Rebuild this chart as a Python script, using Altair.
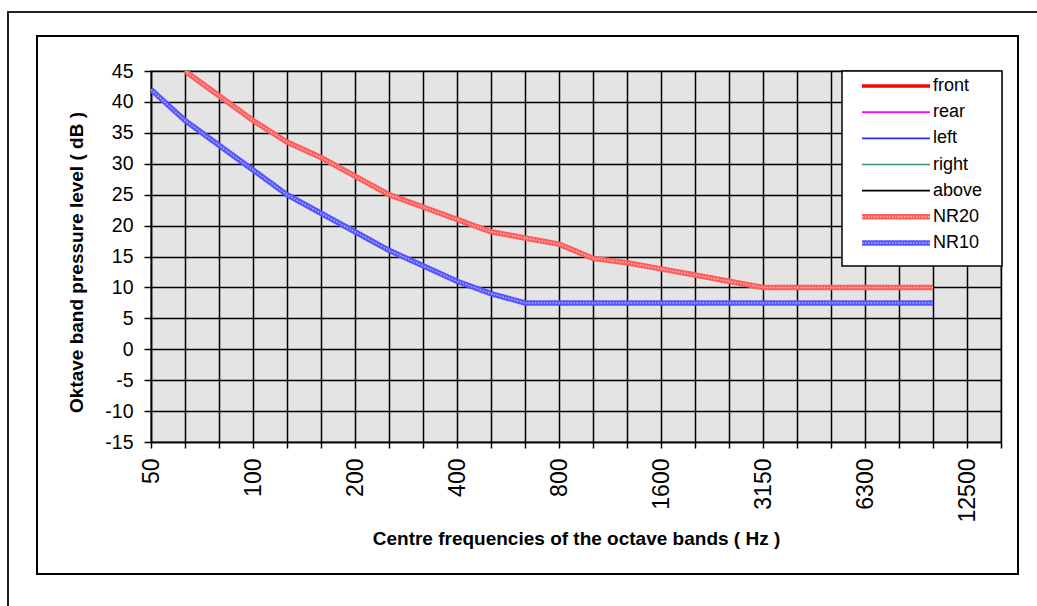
import altair as alt
import pandas as pd

# Third-octave band centre frequencies (Hz)
freqs = ["50", "63", "80", "100", "125", "160", "200", "250", "315", "400",
         "500", "630", "800", "1000", "1250", "1600", "2000", "2500", "3150",
         "4000", "5000", "6300", "8000", "10000", "12500", "16000"]
shown_labels = ["50", "100", "200", "400", "800", "1600", "3150", "6300", "12500"]

# Noise rating curves (dB)
nr20_freqs = freqs[1:24]
nr20_levels = [45, 41, 37, 33.5, 31, 28, 25, 23, 21, 19, 18, 17, 14.7, 14,
               13, 12, 11, 10, 10, 10, 10, 10, 10]
nr10_freqs = freqs[0:24]
nr10_levels = [42, 37, 33, 29, 25, 22, 19, 16, 13.5, 11, 9, 7.5, 7.5, 7.5,
               7.5, 7.5, 7.5, 7.5, 7.5, 7.5, 7.5, 7.5, 7.5, 7.5]

# Legend entries (measurement positions have no data in this sheet)
series_names = ["front", "rear", "left", "right", "above", "NR20", "NR10"]
series_colors = ["#FF0000", "#FF00FF", "#2B2BFF", "#339966", "#000000",
                 "#FF5C5C", "#5555FF"]
y_ticks = list(range(-15, 50, 5))

rows = []
for f, v in zip(nr20_freqs, nr20_levels):
    rows.append({"series": "NR20", "freq": f, "level": v})
for f, v in zip(nr10_freqs, nr10_levels):
    rows.append({"series": "NR10", "freq": f, "level": v})
df = pd.DataFrame(rows)
legend_df = pd.DataFrame({"series": series_names})

FONT = "Liberation Sans"
W, H = 850, 371

label_test = "indexof(" + str(shown_labels) + ", datum.value) >= 0 ? datum.value : ''"

x_enc = alt.X(
    "freq:O",
    sort=freqs,
    scale=alt.Scale(type="point", padding=0, domain=freqs),
    axis=alt.Axis(
        title="Centre frequencies of the octave bands ( Hz )",
        labelExpr=label_test,
        labelAngle=270,
        labelAlign="right",
        labelBaseline="middle",
        labelPadding=10,
        labelFont=FONT,
        labelFontSize=23,
        labelColor="black",
        tickSize=6,
        tickColor="black",
        tickWidth=1.5,
        domainColor="black",
        domainWidth=1.5,
        grid=True,
        gridColor="black",
        gridWidth=1.5,
        gridOpacity=1,
        titleFont=FONT,
        titleFontSize=19,
        titleFontWeight="bold",
        titleColor="black",
        titleBaseline="middle",
        titleY=96,
        labelOverlap=False,
    ),
)
y_enc = alt.Y(
    "level:Q",
    scale=alt.Scale(domain=[-15, 45], nice=False, zero=False),
    axis=alt.Axis(
        title="Oktave band pressure level ( dB )",
        values=y_ticks,
        labelExpr="'' + datum.value",
        labelFont=FONT,
        labelFontSize=19.5,
        labelColor="black",
        labelPadding=11,
        tickSize=7,
        tickColor="black",
        tickWidth=1.5,
        domainColor="black",
        domainWidth=1.5,
        grid=True,
        gridColor="black",
        gridWidth=1.5,
        gridOpacity=1,
        titleFont=FONT,
        titleFontSize=19,
        titleFontWeight="bold",
        titleColor="black",
        titleBaseline="middle",
        titleX=-75,
        titleY=191,
        labelOverlap=False,
    ),
)

color_scale = alt.Scale(domain=series_names, range=series_colors)

lines = alt.Chart(df).mark_line(strokeWidth=5.5, clip=True).encode(
    x=x_enc,
    y=y_enc,
    color=alt.Color("series:N", scale=color_scale, legend=None),
    detail="series:N",
)

# light dotted texture running along the noise-rating curves
texture = alt.Chart(df).mark_line(
    strokeWidth=1.5, color="white", strokeDash=[1.5, 1.5], opacity=0.55, clip=True
).encode(x=x_enc, y=y_enc, detail="series:N")

frame_data = pd.DataFrame({"k": [0]})
outer_frame = alt.Chart(frame_data).mark_rect(
    filled=False, stroke="#222222", strokeWidth=2
).encode(x=alt.value(-143), x2=alt.value(890), y=alt.value(-59), y2=alt.value(540))
inner_frame = alt.Chart(frame_data).mark_rect(
    filled=False, stroke="black", strokeWidth=2
).encode(x=alt.value(-114), x2=alt.value(867), y=alt.value(-35), y2=alt.value(503))

base = alt.layer(outer_frame, inner_frame, lines, texture)

# Legend box drawn as its own layer group
legend_y = alt.Y("series:N", sort=series_names,
                 scale=alt.Scale(type="point", domain=series_names, range=[15, 172], padding=0),
                 axis=None)
legend_box = alt.Chart(frame_data).mark_rect(
    fill="white", stroke="black", strokeWidth=1.5
).encode(x=alt.value(691), x2=alt.value(851), y=alt.value(0), y2=alt.value(195))

legend_base = alt.Chart(legend_df)
sym_enc = dict(x=alt.value(711), x2=alt.value(779), y=legend_y,
               color=alt.Color("series:N", scale=color_scale, legend=None))
sym_front = legend_base.transform_filter(
    "datum.series === 'front'").mark_rule(strokeWidth=3.5).encode(**sym_enc)
sym_thin = legend_base.transform_filter(
    "indexof(['rear','left','right','above'], datum.series) >= 0"
).mark_rule(strokeWidth=1.6).encode(**sym_enc)
sym_nr = legend_base.transform_filter(
    "datum.series === 'NR20' || datum.series === 'NR10'"
).mark_rule(strokeWidth=5.5).encode(**sym_enc)
sym_tex = legend_base.transform_filter(
    "datum.series === 'NR20' || datum.series === 'NR10'").mark_rule(
    strokeWidth=1.5, color="white", strokeDash=[1.5, 1.5], opacity=0.55
).encode(x=alt.value(711), x2=alt.value(779), y=legend_y)
legend_text = legend_base.mark_text(
    align="left", baseline="middle", font=FONT, fontSize=18, color="black"
).encode(x=alt.value(782), y=legend_y, text="series:N")

legend = alt.layer(legend_box, sym_front, sym_thin, sym_nr, sym_tex, legend_text)

chart = alt.layer(base, legend).resolve_scale(y="independent").properties(
    width=W,
    height=H,
    autosize=alt.AutoSizeParams(type="none"),
    padding={"left": 151, "top": 71, "right": 36, "bottom": 164},
    background="white",
).configure_view(
    fill="#E4E4E4",
    stroke="#A0A0A0",
    strokeWidth=2,
)

chart.save("out.html", embed_options={"renderer": "svg", "actions": False})
